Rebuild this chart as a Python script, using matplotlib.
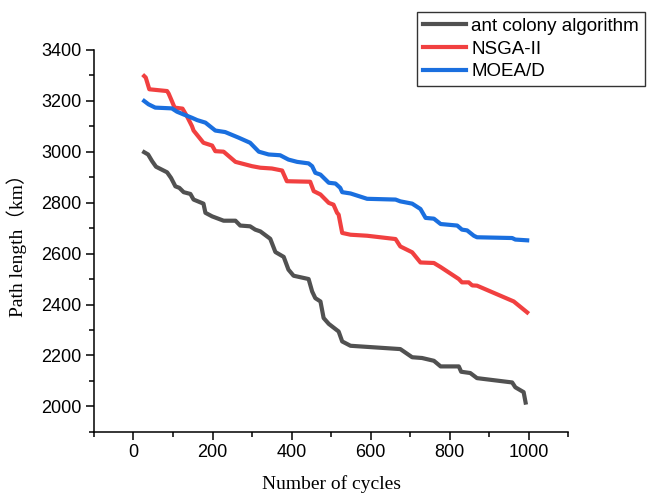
import numpy as np
import matplotlib
matplotlib.use('Agg')
import matplotlib.pyplot as plt
from matplotlib.ticker import MultipleLocator

# convergence of path length for the three optimisers
aco_cycles = [27, 37, 47, 57, 85, 95, 106, 116, 127, 144, 152, 177, 182, 199, 228, 258, 270, 295,
              308, 321, 346, 359, 380, 392, 405, 443, 452, 460, 473, 481, 494, 519, 528, 549,
              675, 705, 730, 760, 777, 823, 829, 852, 869, 958, 966, 987, 992]
aco_length = [2998, 2989, 2963, 2941, 2919, 2897, 2864, 2858, 2841, 2834, 2812, 2796, 2760, 2746,
              2729, 2729, 2710, 2707, 2694, 2687, 2658, 2606, 2587, 2537, 2513, 2500, 2451, 2425,
              2412, 2347, 2324, 2294, 2255, 2238, 2225, 2193, 2190, 2179, 2157, 2157, 2136, 2131,
              2111, 2094, 2075, 2056, 2015]

nsga_cycles = [27, 31, 40, 85, 89, 97, 104, 124, 135, 148, 152, 177, 199, 207, 228, 258, 300,
               321, 350, 376, 388, 447, 456, 473, 494, 506, 515, 519, 528, 549, 591, 663, 675,
               705, 726, 760, 777, 823, 831, 848, 857, 869, 962, 996]
nsga_length = [3297, 3291, 3245, 3238, 3228, 3199, 3173, 3169, 3140, 3100, 3083, 3035, 3024, 3002,
               3000, 2960, 2943, 2937, 2934, 2926, 2884, 2882, 2845, 2832, 2799, 2792, 2760, 2753,
               2681, 2674, 2670, 2657, 2628, 2605, 2565, 2563, 2547, 2500, 2487, 2487, 2475, 2474,
               2412, 2369]

moead_cycles = [27, 38, 55, 97, 110, 127, 148, 161, 182, 207, 232, 266, 295, 317, 342, 371, 392,
                414, 443, 452, 460, 473, 494, 511, 523, 528, 549, 591, 663, 675, 705, 726, 739,
                760, 777, 819, 831, 844, 861, 869, 958, 966, 996]
moead_length = [3199, 3186, 3173, 3170, 3157, 3146, 3133, 3124, 3114, 3083, 3077, 3055, 3035, 3000,
                2989, 2986, 2969, 2960, 2954, 2943, 2917, 2910, 2878, 2875, 2858, 2841, 2836, 2815,
                2812, 2805, 2796, 2775, 2740, 2737, 2716, 2710, 2694, 2691, 2670, 2664, 2661, 2655,
                2652]

plt.rcParams['font.family'] = ['Liberation Sans', 'DejaVu Sans']

fig = plt.figure(figsize=(6.48, 4.93), dpi=100)
ax = fig.add_axes([0.145, 0.124, 0.732, 0.775])

ax.plot(aco_cycles, aco_length, color='#515151', lw=3, label='ant colony algorithm')
ax.plot(nsga_cycles, nsga_length, color='#F14040', lw=3, label='NSGA-II')
ax.plot(moead_cycles, moead_length, color='#1A6FDF', lw=3, label='MOEA/D')

ax.set_xlim(-100, 1100)
ax.set_ylim(1900, 3400)
ax.xaxis.set_major_locator(MultipleLocator(200))
ax.xaxis.set_minor_locator(MultipleLocator(100))
ax.yaxis.set_major_locator(MultipleLocator(200))
ax.yaxis.set_minor_locator(MultipleLocator(100))
ax.set_xticks([0, 200, 400, 600, 800, 1000])

for side in ['top', 'right']:
    ax.spines[side].set_visible(False)
for side in ['left', 'bottom']:
    ax.spines[side].set_linewidth(1.1)
ax.tick_params(which='major', direction='out', length=5.5, width=1.1, labelsize=13)
ax.tick_params(which='minor', direction='out', length=3.5, width=1.1)

ax.set_xlabel('Number of cycles', family=['Liberation Serif', 'Noto Sans CJK SC'],
              fontsize=14, labelpad=10)
ax.set_ylabel('Path length（km）', family=['Liberation Serif', 'Noto Sans CJK SC'],
              fontsize=14, labelpad=10)

leg = fig.legend(loc='upper left', bbox_to_anchor=(417 / 648, 1 - 12 / 493), fontsize=13.5,
                 frameon=True, fancybox=False, edgecolor='black', handlelength=2.3,
                 handletextpad=0.3, labelspacing=0.3, borderpad=0.3, borderaxespad=0)
leg.get_frame().set_linewidth(1.0)

fig.savefig('out.png', dpi=100)
